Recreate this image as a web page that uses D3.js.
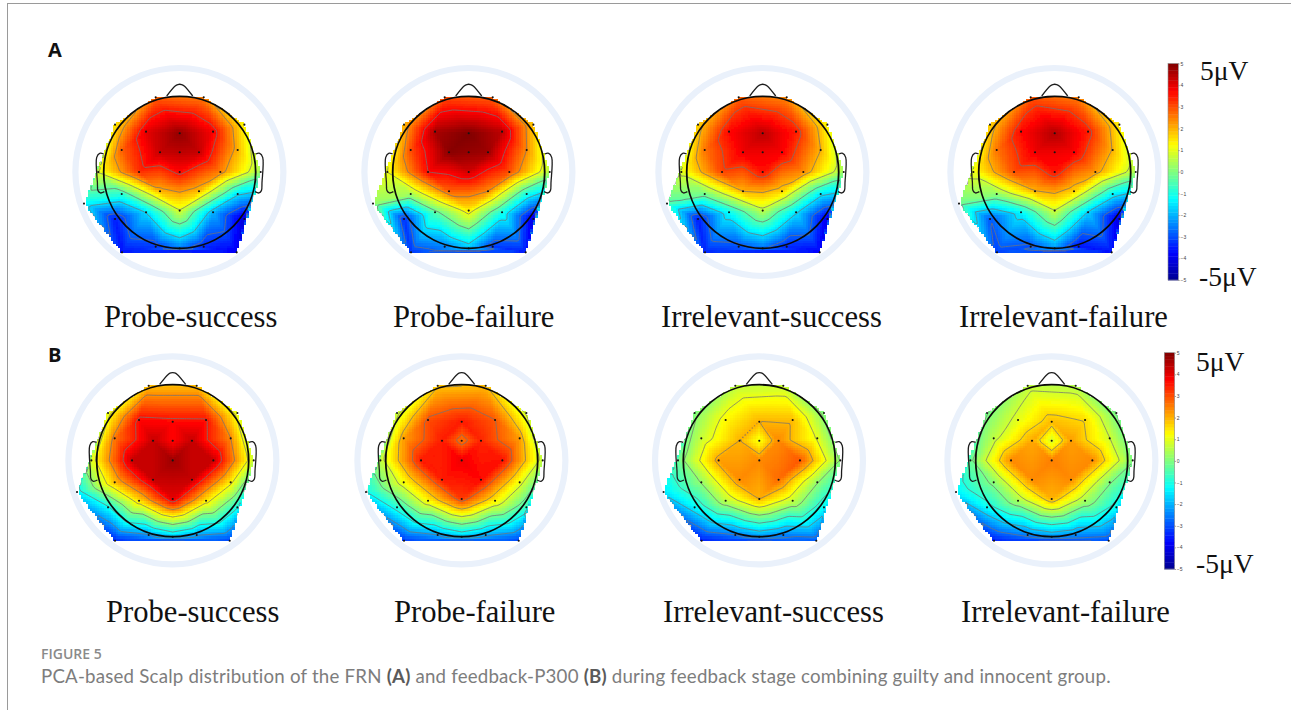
<!DOCTYPE html>
<html>
<head>
<meta charset="utf-8">
<style>
html,body{margin:0;padding:0;background:#fff;}
svg{display:block;}
</style>
<script src="https://cdn.jsdelivr.net/npm/d3@7"></script>
</head>
<body>
<svg id="chart" width="1291" height="710"></svg>
<script>
// ---- data ----
const conditions = ["Probe-success","Probe-failure","Irrelevant-success","Irrelevant-failure"];
const panels = ["A","B"];
const electrodes = ["Fp1","Fp2","F7","F3","Fz","F4","F8","FT7","FC3","FCz","FC4","FT8","T7","C3","Cz","C4","T8","TP7","CP3","CP4","TP8","M1","P3","Pz","P4","P7","P8","O1","Oz","O2","PO9","PO10"];
const electrodeX = [-0.316,0.316,-0.851,-0.443,0,0.439,0.851,-0.763,-0.259,0,0.254,0.763,-1.07,-0.535,0,0.535,1.066,-0.763,-0.259,0.254,0.763,-1.259,-0.443,0,0.439,-0.851,0.851,-0.316,0,0.316,-0.759,0.75];
const electrodeY = [0.987,0.987,0.627,0.535,0.513,0.535,0.627,0.294,0.263,0.263,0.263,0.294,0.004,0.004,0.004,0.004,0.004,-0.285,-0.25,-0.25,-0.285,-0.412,-0.526,-0.504,-0.526,-0.614,-0.614,-0.978,-1,-0.978,-1.053,-1.053];
const frnProbeSuccess =      [2.8,2.5,1.5,4.0,4.8,3.8,1.3,2.8,4.3,4.4,4.3,2.0,1.0,3.3,3.7,2.5,0.3,-0.8,2.0,1.9,-1.5,-1.3,-1.6,0.9,-2.0,-3.5,-4.2,-3.2,-2.6,-3.4,-3.6,-3.9];
const frnProbeFailure =      [3.0,2.8,2.0,4.6,5.0,4.4,1.8,3.0,4.9,4.8,4.7,2.4,1.1,3.7,4.2,3.0,0.5,0.4,2.8,2.4,-1.0,0.2,-0.4,1.4,-1.0,-3.3,-4.1,-2.5,-1.9,-3.2,-3.2,-3.5];
const frnIrrelevantSuccess = [2.8,2.4,1.7,3.7,4.4,3.5,1.3,2.6,3.9,3.9,3.8,2.0,1.0,3.1,3.6,2.4,0.3,-0.1,2.0,1.7,-1.4,-0.5,-1.2,0.6,-1.5,-3.5,-4.0,-3.0,-2.7,-3.4,-3.4,-3.8];
const frnIrrelevantFailure = [2.9,2.5,1.7,3.7,4.5,3.5,1.4,2.6,3.9,3.9,3.8,2.0,1.1,3.0,3.6,2.3,0.4,0.2,2.0,1.7,-1.3,-0.2,-1.3,0.8,-1.7,-2.9,-4.1,-3.0,-2.3,-3.6,-3.1,-3.6];
const p300ProbeSuccess =     [1.9,1.9,1.0,3.7,3.7,3.6,1.0,2.6,4.3,3.7,4.3,2.4,0.9,4.3,4.7,4.3,0.7,1.9,4.3,4.3,1.4,-1.4,1.6,4.0,1.5,-1.2,-1.0,-2.3,-1.8,-2.2,-3.4,-3.1];
const p300ProbeFailure =     [1.8,1.9,0.7,3.0,3.5,2.9,0.8,2.2,3.5,2.6,3.4,2.2,0.6,3.5,3.9,3.6,0.6,1.2,3.5,3.7,1.1,-1.2,1.3,3.2,1.4,-0.9,-0.7,-2.2,-1.8,-2.1,-3.2,-3.1];
const p300IrrelevantSuccess =[0.6,0.7,0.0,1.3,2.0,1.9,0.0,0.7,2.0,1.1,2.4,1.0,-0.2,2.2,2.4,2.9,0.1,0.2,2.4,2.7,0.2,-1.5,0.6,2.0,0.7,-1.3,-1.2,-2.6,-2.3,-2.5,-3.5,-2.9];
const p300IrrelevantFailure =[0.6,0.5,-0.1,1.0,1.9,1.6,-0.1,0.6,2.1,0.8,2.2,0.8,-0.2,2.4,2.5,2.4,0.0,0.1,2.4,2.4,0.0,-1.4,0.4,2.0,0.4,-1.2,-1.2,-2.5,-2.3,-2.4,-3.5,-3.0];
const seriesByPanel = [
  [frnProbeSuccess,frnProbeFailure,frnIrrelevantSuccess,frnIrrelevantFailure],
  [p300ProbeSuccess,p300ProbeFailure,p300IrrelevantSuccess,p300IrrelevantFailure]
];
const colorTicks = [5,4,3,2,1,0,-1,-2,-3,-4,-5];
const unitLabels = ["5μV","-5μV"];
const captionTitle = "FIGURE 5";

// ---- layout ----
const R = 76, svg = d3.select("#chart");
const layout = [
  {cy:172.3, cx:[179.7,468.7,762.7,1054.7], lx:[104,393,661,959], ly:327, tag:[48,57],
   bar:{x:1168,w:10.3,top:63.5,bottom:280}, unit:[[1200,80],[1199,286]]},
  {cy:460.7, cx:[172.7,461.7,759.3,1051.7], lx:[106,394,663,961], ly:622, tag:[48,362],
   bar:{x:1164.3,w:10.3,top:352.7,bottom:569}, unit:[[1196,371],[1196,573]]}
];

const jet = d3.scaleLinear().domain([-5,-3.75,-1.25,1.25,3.75,5])
  .range(["#00008f","#0000ff","#00ffff","#ffff00","#ff0000","#800000"]).clamp(true);

const defs = svg.append("defs");
defs.append("filter").attr("id","soft").attr("x","-5%").attr("y","-5%").attr("width","110%").attr("height","110%")
  .append("feGaussianBlur").attr("stdDeviation",0.7);
defs.append("filter").attr("id","softer").append("feGaussianBlur").attr("stdDeviation",0.3);

// frame
svg.append("line").attr("x1",7).attr("x2",1291).attr("y1",3.5).attr("y2",3.5).attr("stroke","#9a9a9a").attr("stroke-width",1);
svg.append("line").attr("x1",7.5).attr("x2",7.5).attr("y1",3).attr("y2",710).attr("stroke","#9a9a9a").attr("stroke-width",1);

// ---- triangulated (griddata-style) surface, shared geometry ----
const pts = electrodes.map((_,i)=>[electrodeX[i],electrodeY[i]]);
const delaunay = d3.Delaunay.from(pts);
const tris = d3.range(delaunay.triangles.length/3).map(t=>[delaunay.triangles[3*t],delaunay.triangles[3*t+1],delaunay.triangles[3*t+2]]);
const hullPts = Array.from(delaunay.hull).map(i=>pts[i]);
const N = 85, span = 1.3;
const gridU = d3.scaleLinear().domain([0,N]).range([-span,span]);
const gridV = d3.scaleLinear().domain([0,N]).range([span,-span]);
const cells = [];
const nearest = new Array(N*N);
for(let j=0;j<N;j++) for(let i=0;i<N;i++){
  const u=gridU(i+0.5), v=gridV(j+0.5);
  nearest[j*N+i]=delaunay.find(u,v);
  for(const t of tris){
    const [a,b,c]=[pts[t[0]],pts[t[1]],pts[t[2]]];
    const d=(b[1]-c[1])*(a[0]-c[0])+(c[0]-b[0])*(a[1]-c[1]);
    const w0=((b[1]-c[1])*(u-c[0])+(c[0]-b[0])*(v-c[1]))/d;
    const w1=((c[1]-a[1])*(u-c[0])+(a[0]-c[0])*(v-c[1]))/d;
    const w2=1-w0-w1;
    if(w0>=-1e-9&&w1>=-1e-9&&w2>=-1e-9){cells.push({i,j,t,w:[w0,w1,w2]});break;}
  }
}

function drawMap(values,cx,cy,id){
  const x=d3.scaleLinear().domain([-1,1]).range([cx-R,cx+R]);
  const y=d3.scaleLinear().domain([-1,1]).range([cy+R,cy-R]);
  const g=svg.append("g").attr("class","topomap");
  // ring
  g.append("circle").attr("cx",cx-0.3).attr("cy",cy-0.3).attr("r",104).attr("fill","none").attr("stroke","#eaf1fb").attr("stroke-width",6.2);
  // surface
  const grid=new Array(N*N);
  nearest.forEach((k,idx)=>grid[idx]=values[k]);
  const cellW=x(gridU(1))-x(gridU(0));
  const surface=cells.map(c=>{
    const val=c.w[0]*values[c.t[0]]+c.w[1]*values[c.t[1]]+c.w[2]*values[c.t[2]];
    grid[c.j*N+c.i]=val;
    return {c,val};
  });
  g.append("g").attr("filter","url(#soft)").selectAll("rect").data(surface).join("rect")
    .attr("x",d=>x(gridU(d.c.i))).attr("y",d=>y(gridV(d.c.j)))
    .attr("width",cellW+0.3).attr("height",cellW+0.3)
    .attr("fill",d=>jet(d.val)).attr("shape-rendering","crispEdges");
  // contours, topoplot style: six levels between min and max
  const lo=d3.min(values), hi=d3.max(values);
  const levels=d3.range(1,7).map(k=>lo+(hi-lo)*k/7);
  const contours=d3.contours().size([N,N]).smooth(true).thresholds(levels)(grid);
  const toPx=d3.geoTransform({point(px,py){this.stream.point(x(gridU(px)),y(gridV(py)));}});
  const clipId="hull"+id;
  svg.select("defs").append("clipPath").attr("id",clipId).append("path")
    .attr("d",d3.line().x(p=>x(p[0])).y(p=>y(p[1])).curve(d3.curveLinearClosed)(hullPts));
  g.append("g").attr("clip-path",`url(#${clipId})`).selectAll("path").data(contours).join("path")
    .attr("d",d3.geoPath(toPx)).attr("fill","none").attr("stroke","#747474").attr("stroke-width",0.75);
  // head outline
  const line=d3.line().x(p=>x(p[0])).y(p=>y(p[1]));
  const nose=[[-0.171,1.004],[-0.06,1.135],[-0.025,1.155],[0.025,1.155],[0.06,1.135],[0.171,1.004]];
  const earL=[[-1.0,0.241],[-1.053,0.25],[-1.092,0.197],[-1.083,-0.132],[-1.075,-0.241],[-1.044,-0.272],[-0.991,-0.254]];
  const earR=earL.map(p=>[-p[0],p[1]]);
  const outline=g.append("g").attr("fill","none").attr("stroke","#1e1e1e").attr("stroke-width",1.3).attr("filter","url(#softer)");
  outline.append("path").attr("d",line.curve(d3.curveCatmullRom)(nose));
  outline.append("path").attr("d",line.curve(d3.curveCatmullRom)(earL));
  outline.append("path").attr("d",line.curve(d3.curveCatmullRom)(earR));
  // electrodes
  g.append("g").selectAll("circle").data(pts).join("circle")
    .attr("cx",p=>x(p[0])).attr("cy",p=>y(p[1])).attr("r",1.05).attr("fill","#141414");
  g.append("circle").attr("cx",cx).attr("cy",cy).attr("r",R).attr("fill","none").attr("stroke","#0a0a0a").attr("stroke-width",1.8);
}

seriesByPanel.forEach((maps,p)=>{
  const L=layout[p];
  maps.forEach((vals,m)=>{
    drawMap(vals,L.cx[m],L.cy,`${p}${m}`);
    svg.append("text").attr("x",L.lx[m]).attr("y",L.ly)
      .attr("font-family","'Liberation Serif',serif").attr("font-size",30.6).attr("fill","#111").text(conditions[m]);
  });
  svg.append("text").attr("x",L.tag[0]).attr("y",L.tag[1]).attr("font-family","'Open Sans',sans-serif")
    .attr("font-weight",700).attr("font-size",20).attr("fill","#111").text(panels[p]);
  // colour bar
  const b=L.bar;
  const barY=d3.scaleLinear().domain([-5,5]).range([b.bottom,b.top]);
  const steps=d3.range(-5,5,10/64);
  const bar=svg.append("g").attr("class","colorbar").attr("filter","url(#softer)");
  bar.selectAll("rect").data(steps).join("rect")
    .attr("x",b.x).attr("width",b.w)
    .attr("y",d=>barY(d+10/64)).attr("height",d=>barY(d)-barY(d+10/64)+0.4)
    .attr("fill",d=>jet(d+5/64));
  bar.append("rect").attr("x",b.x).attr("y",b.top).attr("width",b.w).attr("height",b.bottom-b.top)
    .attr("fill","none").attr("stroke","#8a8a8a").attr("stroke-width",0.6);
  const ax=svg.append("g").attr("transform",`translate(${b.x+b.w},0)`)
    .call(d3.axisRight(barY).tickValues(colorTicks).tickFormat(d3.format("d")).tickSize(1.2).tickPadding(1));
  ax.select(".domain").remove();
  ax.selectAll("line").attr("stroke","#888");
  ax.selectAll("text").attr("font-size",5).attr("font-family","'Liberation Sans',sans-serif").attr("fill","#444");
  unitLabels.forEach((t,k)=>{
    svg.append("text").attr("x",L.unit[k][0]).attr("y",L.unit[k][1])
      .attr("font-family","'Liberation Serif',serif").attr("font-size",27.5).attr("fill","#111").text(t);
  });
});

// caption
svg.append("text").attr("x",41).attr("y",659).attr("font-family","'Open Sans',sans-serif")
  .attr("font-weight",600).attr("font-size",14).attr("fill","#8a8a8a").text(captionTitle);
const cap=svg.append("text").attr("x",41).attr("y",683).attr("font-family","Lato,sans-serif")
  .attr("font-size",18.7).attr("letter-spacing",0.2).attr("fill","#7d7d7d");
[["PCA-based Scalp distribution of the FRN ",0],["(A)",1],[" and feedback-P300 ",0],["(B)",1],[" during feedback stage combining guilty and innocent group.",0]]
  .forEach(([t,bold])=>cap.append("tspan").attr("font-weight",bold?700:400).attr("fill",bold?"#5a5a5a":"#7d7d7d").text(t));
</script>
</body>
</html>
